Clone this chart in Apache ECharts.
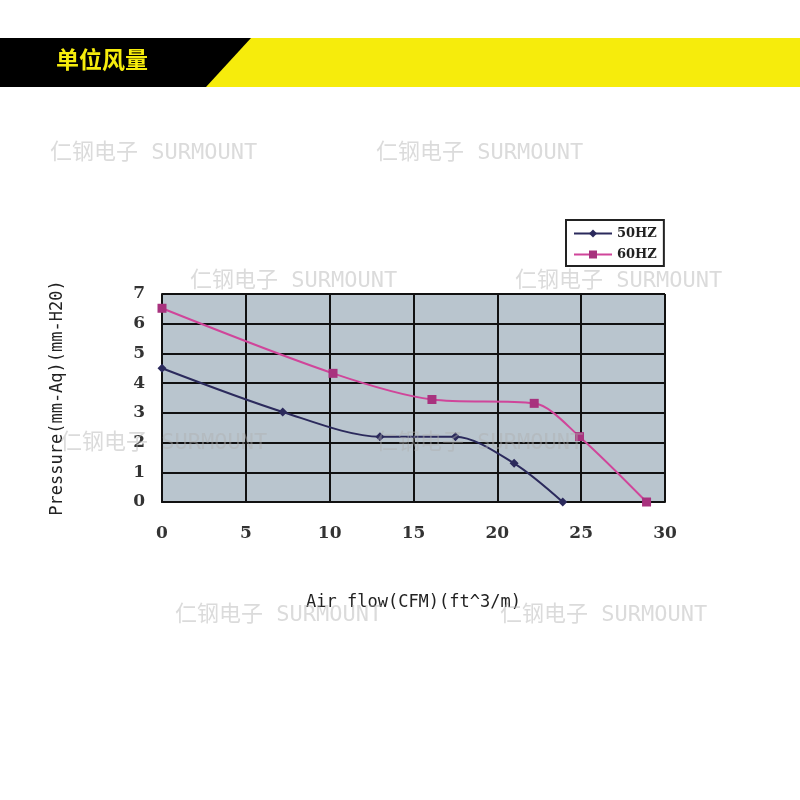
<!DOCTYPE html>
<html><head><meta charset="utf-8">
<script src="https://cdn.jsdelivr.net/npm/echarts@6/dist/echarts.min.js"></script>
<style>html,body{margin:0;padding:0;background:#fff}#c{width:800px;height:800px}</style>
</head><body><div id="c"></div>
<script>
const titleText = '单位风量';
const xTicks = [0, 5, 10, 15, 20, 25, 30];
const yTicks = [0, 1, 2, 3, 4, 5, 6, 7];
const s50Name = '50HZ';
const s50 = [[0, 4.5], [7.2, 3.03], [13.0, 2.2], [17.5, 2.2], [21.0, 1.3], [23.9, 0]];
const s60Name = '60HZ';
const s60 = [[0, 6.52], [10.2, 4.33], [16.1, 3.45], [22.2, 3.32], [24.9, 2.2], [28.9, 0]];
const xName = 'Air flow(CFM)(ft^3/m)';
const yName = 'Pressure(mm-Aq)(mm-H20)';
const watermark = '仁钢电子 SURMOUNT';

const chart = echarts.init(document.getElementById('c'));
const wmPos = [[50,142],[376,142],[190,270],[515,270],[60,432],[376,432],[175,604],[500,604]];
const graphics = [
  {type:'rect', shape:{x:0,y:38,width:800,height:49}, style:{fill:'#f6ec0c'}, z:0},
  {type:'polygon', shape:{points:[[0,38],[251,38],[206,87],[0,87]]}, style:{fill:'#000'}, z:1},
  {type:'text', left:56, top:48, style:{text:titleText, fill:'#f6ec0c', font:'bold 23px "Noto Sans CJK SC"'}, z:2}
];
wmPos.forEach(p=>graphics.push({type:'text', left:p[0], top:p[1], style:{text:watermark, fill:'rgba(175,175,175,0.45)', font:'22px "DejaVu Sans Mono", "Noto Sans CJK SC"'}, z:100, silent:true}));

chart.setOption({
  animation:false,
  backgroundColor:'#fff',
  graphic: graphics,
  legend:{
    left:566, top:220, orient:'vertical', itemGap:8,
    padding:[7,7,5,7],
    borderColor:'#222', borderWidth:2, backgroundColor:'#fff',
    itemWidth:38, itemHeight:10,
    textStyle:{fontFamily:'DejaVu Serif', fontWeight:'bold', fontSize:13, color:'#222'},
    data:[s50Name, s60Name]
  },
  grid:{left:162, right:135, top:294, bottom:298, show:true, backgroundColor:'#b9c5ce', borderColor:'#999', borderWidth:1},
  xAxis:{
    type:'value', min:xTicks[0], max:xTicks[xTicks.length-1], interval:5,
    name:xName, nameLocation:'middle', nameGap:92,
    nameTextStyle:{fontFamily:'DejaVu Sans Mono', fontSize:17, color:'#222'},
    axisLine:{lineStyle:{color:'#111', width:2}},
    axisTick:{show:false},
    axisLabel:{margin:23, fontFamily:'DejaVu Serif', fontWeight:'bold', fontSize:17, color:'#333'},
    splitLine:{show:true, lineStyle:{color:'#111', width:2}}
  },
  yAxis:{
    type:'value', min:yTicks[0], max:yTicks[yTicks.length-1], interval:1,
    name:yName, nameLocation:'middle', nameGap:96,
    nameTextStyle:{fontFamily:'DejaVu Sans Mono', fontSize:17, color:'#222'},
    axisLine:{show:true, lineStyle:{color:'#111', width:2}},
    axisTick:{show:false},
    axisLabel:{margin:17, fontFamily:'DejaVu Serif', fontWeight:'bold', fontSize:17, color:'#333'},
    splitLine:{show:true, lineStyle:{color:'#111', width:2}}
  },
  series:[
    {name:s50Name, type:'line', data:s50, smooth:0.3, symbol:'diamond', symbolSize:9,
     lineStyle:{color:'#2b2a5c', width:2}, itemStyle:{color:'#2b2a5c'}, z:5},
    {name:s60Name, type:'line', data:s60, smooth:0.3, symbol:'rect', symbolSize:9,
     lineStyle:{color:'#d0459a', width:2}, itemStyle:{color:'#a8327e'}, z:5}
  ]
});
</script></body></html>
